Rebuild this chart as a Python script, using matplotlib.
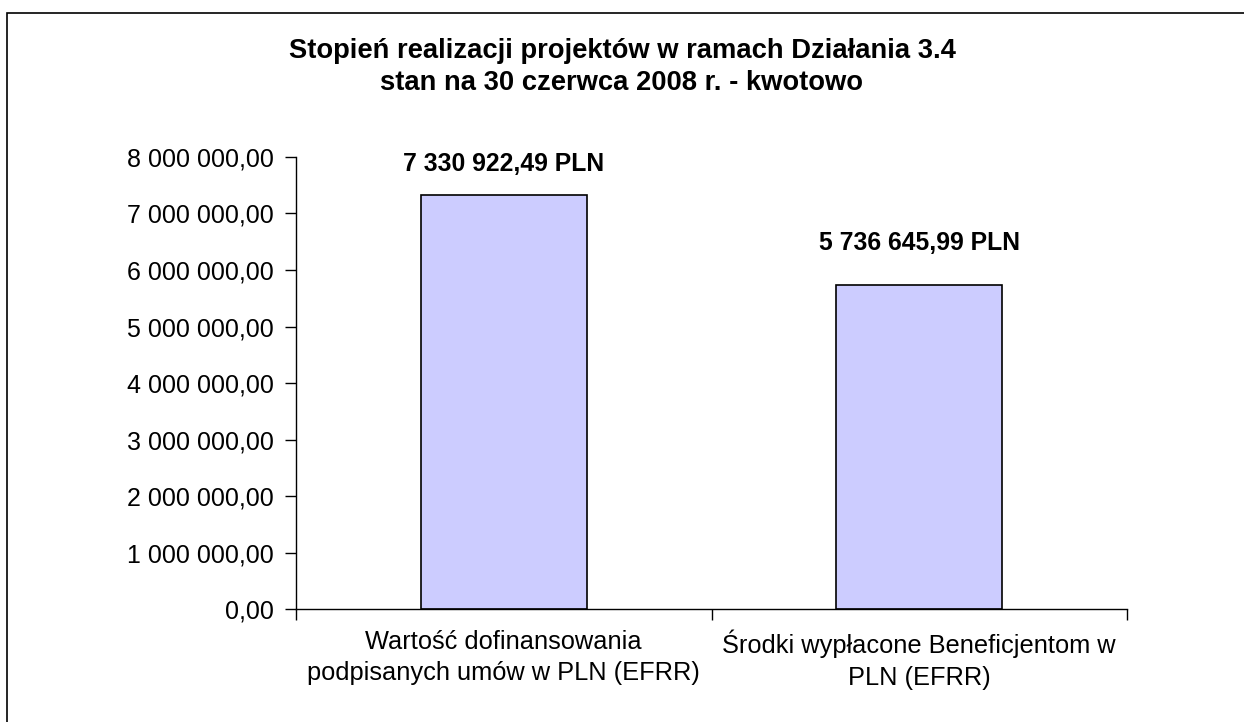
import matplotlib
matplotlib.use("Agg")
import matplotlib.pyplot as plt
from matplotlib.patches import Rectangle
from matplotlib.ticker import FixedLocator

categories = ["Wartość dofinansowania\npodpisanych umów w PLN (EFRR)",
              "Środki wypłacone Beneficjentom w\nPLN (EFRR)"]
values = [7330922.49, 5736645.99]
value_labels = ["7 330 922,49 PLN", "5 736 645,99 PLN"]
yticks = [0, 1000000, 2000000, 3000000, 4000000, 5000000, 6000000, 7000000, 8000000]
ytick_labels = ["0,00", "1 000 000,00", "2 000 000,00", "3 000 000,00", "4 000 000,00",
                "5 000 000,00", "6 000 000,00", "7 000 000,00", "8 000 000,00"]
title = "Stopień realizacji projektów w ramach Działania 3.4\nstan na 30 czerwca 2008 r. - kwotowo"

plt.rcParams['font.family'] = ['Liberation Sans', 'DejaVu Sans']

fig = plt.figure(figsize=(12.44, 7.22), dpi=100)
ax = fig.add_axes([296/1244, 1-609/722, (1127-296)/1244, (609-157)/722])

x = list(range(len(categories)))
bars = ax.bar(x, values, width=0.4, color="#CCCCFF", edgecolor="black", linewidth=1.2)

ax.set_xlim(-0.5, len(categories) - 0.5)
ax.set_ylim(0, 8000000)
ax.set_yticks(yticks)
ax.set_yticklabels(ytick_labels, fontsize=18)
ax.set_xticks(x)
ax.set_xticklabels(categories, fontsize=18.3, linespacing=1.4)
ax.tick_params(axis='x', length=0, pad=15)
ax.xaxis.set_minor_locator(FixedLocator([-0.5, 0.5, 1.5]))
ax.tick_params(axis='x', which='minor', length=8, width=1, direction='out')
ax.tick_params(axis='y', length=8, width=1, direction='out', pad=8)

for s in ['top', 'right']:
    ax.spines[s].set_visible(False)
for s in ['left', 'bottom']:
    ax.spines[s].set_linewidth(1)
    ax.spines[s].set_color('black')

offsets = [17, 25]
for b, lab, off in zip(bars, value_labels, offsets):
    ax.annotate(lab, (b.get_x() + b.get_width()/2, b.get_height()),
                xytext=(0, off), textcoords='offset points',
                ha='center', va='baseline', fontsize=17.8, fontweight='bold')

fig.text(0.5, 1 - 67/722, title, ha='center', va='center', fontsize=19.7,
         fontweight='bold', linespacing=1.3)

fig.patches.append(Rectangle((7/1244, -0.05), 1.2, 1 - 13/722 + 0.05,
                             transform=fig.transFigure, fill=False,
                             edgecolor='black', linewidth=1.2))

fig.savefig("out.png", dpi=100)
